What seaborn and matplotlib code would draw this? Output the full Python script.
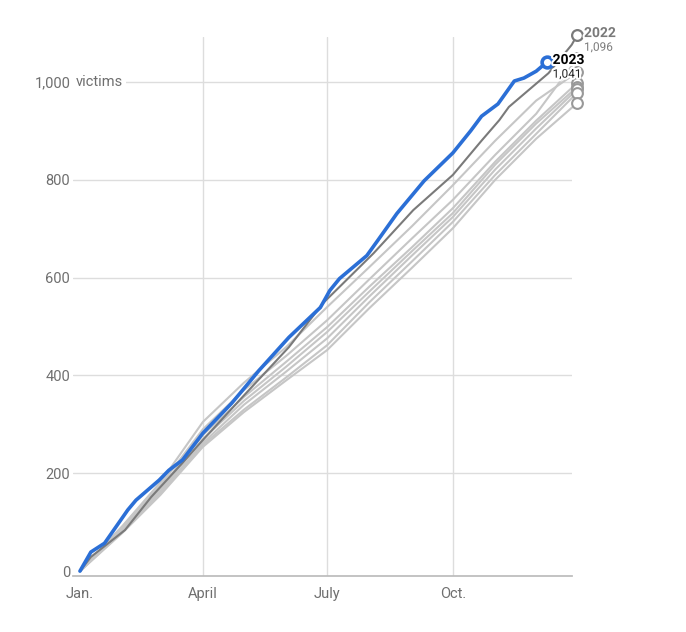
import matplotlib.pyplot as plt
import matplotlib.patheffects as pe
import seaborn as sns
import pandas as pd

# Cumulative victims (day of year -> running total)
month_days = [0, 31, 59, 90, 120, 151, 181, 212, 243, 273, 304, 334, 364]

gray_years = {
    '2020': [0, 92, 182, 305, 385, 458, 540, 622, 705, 789, 880, 962, 1020],
    '2021': [0, 90, 176, 290, 370, 440, 513, 597, 680, 759, 851, 935, 1048],
    '2019': [0, 86, 170, 278, 356, 428, 499, 582, 662, 742, 837, 921, 998],
    '2018': [0, 84, 166, 270, 348, 418, 489, 572, 654, 732, 831, 915, 990],
    '2015': [0, 82, 162, 262, 340, 408, 476, 562, 645, 724, 821, 905, 985],
    '2017': [0, 80, 160, 258, 330, 396, 462, 550, 633, 714, 810, 894, 978],
    '2016': [0, 78, 156, 254, 325, 390, 452, 538, 620, 701, 800, 884, 957],
}

days_2022 = [0, 8, 33, 52, 75, 90, 117, 153, 178, 190, 215, 244, 273, 294,
             307, 314, 343, 360, 364]
vals_2022 = [0, 29, 84, 151, 221, 268, 350, 458, 548, 581, 650, 738, 810, 880,
             922, 949, 1018, 1076, 1096]

days_2023 = [0, 8, 18, 35, 41, 58, 65, 75, 90, 111, 117, 131, 153, 176, 183,
             190, 210, 218, 232, 252, 273, 286, 294, 306, 318, 325, 334, 342]
vals_2023 = [0, 39, 57, 125, 145, 186, 206, 227, 282, 343, 363, 410, 478, 539,
             574, 598, 645, 676, 731, 798, 855, 900, 930, 955, 1002, 1008, 1022,
             1041]

xtick_days = [0, 90, 181, 273]
xtick_labels = ['Jan.', 'April', 'July', 'Oct.']
ytick_vals = [0, 200, 400, 600, 800, 1000]
ytick_labels = ['0', '200', '400', '600', '800', '1,000']

blue = '#2b6fd6'
dark = '#7a7a7a'
light = '#c6c6c6'
txt = '#6f6f6f'

sns.set_theme(style='white')
plt.rcParams['font.family'] = ['Roboto', 'DejaVu Sans']

rows = []
for yr, vals in gray_years.items():
    for d, v in zip(month_days, vals):
        rows.append({'year': yr, 'day': d, 'victims': v})
gray_df = pd.DataFrame(rows)
df22 = pd.DataFrame({'day': days_2022, 'victims': vals_2022})
df23 = pd.DataFrame({'day': days_2023, 'victims': vals_2023})

fig = plt.figure(figsize=(6.86, 6.32), dpi=100)
ax = fig.add_axes([0.1064, 0.0886, 0.7274, 0.8529])

sns.lineplot(data=gray_df, x='day', y='victims', hue='year',
             palette={y: light for y in gray_years}, linewidth=1.5,
             legend=False, ax=ax)
sns.lineplot(data=df22, x='day', y='victims', color=dark, linewidth=1.5, ax=ax)
sns.lineplot(data=df23, x='day', y='victims', color=blue, linewidth=2.6, ax=ax)
for ln in ax.lines:
    ln.set_clip_on(False)

# end markers
ends = pd.DataFrame({'day': [364] * len(gray_years),
                     'victims': [v[-1] for v in gray_years.values()]})
ax.scatter(ends['day'], ends['victims'], s=60, facecolor='white',
           edgecolor='#999999', linewidth=1.5, zorder=4, clip_on=False)
ax.scatter([days_2022[-1]], [vals_2022[-1]], s=60, facecolor='white',
           edgecolor=dark, linewidth=1.6, zorder=5, clip_on=False)
ax.scatter([days_2023[-1]], [vals_2023[-1]], s=60, facecolor='white',
           edgecolor=blue, linewidth=2.6, zorder=6, clip_on=False)

halo = [pe.withStroke(linewidth=3, foreground='white')]
ax.text(369, 1100, '2022', fontsize=10, fontweight='bold', color=dark,
        va='center', ha='left', path_effects=halo, clip_on=False, zorder=7)
ax.text(369, 1071, '{:,}'.format(vals_2022[-1]), fontsize=8.5, color=dark,
        va='center', ha='left', path_effects=halo, clip_on=False, zorder=7)
ax.text(346, 1045, '2023', fontsize=10, fontweight='bold', color='black',
        va='center', ha='left', path_effects=halo, clip_on=False, zorder=7)
ax.text(346, 1016, '{:,}'.format(vals_2023[-1]), fontsize=8.5, color='#222222',
        va='center', ha='left', path_effects=halo, clip_on=False, zorder=7)

ax.set_xlim(-5.1, 360.2)
ax.set_ylim(-10, 1092)

ax.set_xticks(xtick_days)
ax.set_xticklabels(xtick_labels)
ax.set_yticks(ytick_vals)
ax.set_yticklabels(ytick_labels)
ax.tick_params(axis='both', length=0, labelsize=10.5, labelcolor=txt)
ax.tick_params(axis='x', pad=8)
ax.tick_params(axis='y', pad=2)

for d in xtick_days[1:]:
    ax.axvline(d, color='#dddddd', linewidth=1, zorder=0)
for v in ytick_vals[1:]:
    ax.axhline(v, color='#dddddd', linewidth=1, zorder=0)

ax.annotate('victims', xy=(-5.1, 1000), xytext=(2, 0),
            textcoords='offset points', fontsize=10.5, color=txt,
            ha='left', va='center', zorder=3,
            bbox=dict(facecolor='white', edgecolor='none', pad=2))

for s in ['top', 'right', 'left']:
    ax.spines[s].set_visible(False)
ax.spines['bottom'].set_color('#bbbbbb')
ax.set_xlabel('')
ax.set_ylabel('')

fig.savefig('out.png', dpi=100, facecolor='white')
